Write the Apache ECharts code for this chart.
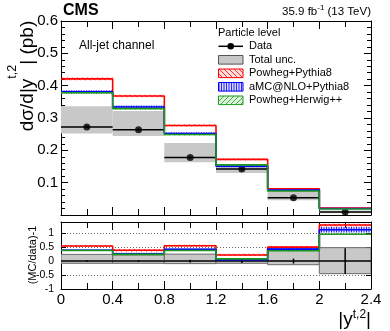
<!DOCTYPE html>
<html>
<head>
<meta charset="utf-8">
<script src="https://cdn.jsdelivr.net/npm/echarts@6/dist/echarts.min.js"></script>
<style>
  html, body { margin: 0; padding: 0; background: #fff; }
  #chart { width: 390px; height: 331px; }
</style>
</head>
<body>
<div id="chart"></div>
<script>
// bins in |y(t,2)|
var binEdges = [0, 0.4, 0.8, 1.2, 1.6, 2.0, 2.4];

// upper panel, dsigma/d|y| in pb
var dataXsec = [0.2725, 0.264, 0.178, 0.142, 0.0535, 0.0095];
var dataStat = [0.004, 0.004, 0.004, 0.004, 0.003, 0.002];
var totUncLo = [0.252, 0.244, 0.163, 0.130, 0.046, 0.0052];
var totUncHi = [0.336, 0.322, 0.223, 0.155, 0.074, 0.0141];
var powhegPythia = [0.421, 0.368, 0.277, 0.172, 0.081, 0.0218];
var amcPythia = [0.381, 0.334, 0.252, 0.151, 0.077, 0.0202];
var powhegHerwig = [0.378, 0.329, 0.249, 0.155, 0.074, 0.0187];
var powhegPythiaUnc = [0.004, 0.004, 0.003, 0.003, 0.002, 0.001];
var amcPythiaUnc = [0.005, 0.005, 0.004, 0.003, 0.002, 0.001];
var powhegHerwigUnc = [0.003, 0.003, 0.003, 0.002, 0.001, 0.001];

// lower panel, (MC/data)-1
var ratioStat = [0.03, 0.03, 0.05, 0.07, 0.09, 0.46];
var ratioUncLo = [-0.08, -0.08, -0.09, -0.08, -0.13, -0.45];
var ratioUncHi = [0.24, 0.22, 0.25, 0.09, 0.38, 0.48];
var ratioPowhegPythia = [0.54, 0.39, 0.55, 0.22, 0.50, 1.29];
var ratioAmcPythia = [0.39, 0.26, 0.42, 0.05, 0.43, 1.12];
var ratioPowhegHerwig = [0.38, 0.24, 0.38, 0.08, 0.37, 0.96];
var ratioPowhegPythiaUnc = [0.035, 0.045, 0.035, 0.04, 0.04, 0.05];
var ratioAmcPythiaUnc = [0.03, 0.04, 0.03, 0.04, 0.04, 0.10];
var ratioPowhegHerwigUnc = [0.02, 0.02, 0.02, 0.02, 0.02, 0.03];

// tick labels
var mainTickLabels = [0.1, 0.2, 0.3, 0.4, 0.5, 0.6];
var ratioTickLabels = [-1, -0.5, 0, 0.5, 1];

var FONT = '"Liberation Sans", Arial, Helvetica, sans-serif';
var RED = '#ff0000', BLUE = '#0000ff', GREEN = '#1c9a1c', GRAY = '#c8c8c8';
var MAIN = 0, RATIO = 2; // axis indices (bottom/left axes of each grid)

function hatch(color, bg, kind) {
  var c = document.createElement('canvas');
  c.width = 5; c.height = 5;
  var g = c.getContext('2d');
  g.fillStyle = bg;
  g.fillRect(0, 0, 5, 5);
  g.strokeStyle = color;
  g.lineWidth = 1;
  g.beginPath();
  if (kind === 'back') { g.moveTo(0, 0); g.lineTo(5, 5); }
  else if (kind === 'fwd') { g.moveTo(0, 5); g.lineTo(5, 0); }
  else { g.moveTo(1.5, 0); g.lineTo(1.5, 5); g.moveTo(4, 0); g.lineTo(4, 5); }
  g.stroke();
  return { image: c, repeat: 'repeat' };
}
var redHatch = hatch('rgba(255,0,0,0.8)', 'rgba(255,120,120,0.25)', 'back');
var blueHatch = hatch('rgba(0,0,255,0.8)', 'rgba(120,120,255,0.3)', 'vert');
var greenHatch = hatch('rgba(28,154,28,0.8)', 'rgba(120,200,120,0.25)', 'fwd');

function stepData(vals) {
  var d = [];
  for (var i = 0; i < vals.length; i++) d.push([binEdges[i], vals[i]]);
  d.push([binEdges[vals.length], vals[vals.length - 1]]);
  return d;
}
function boxRows(lo, hi) {
  return lo.map(function (v, i) { return [binEdges[i], binEdges[i + 1], v, hi[i]]; });
}
function bandRows(center, unc) {
  return center.map(function (v, i) { return [binEdges[i], binEdges[i + 1], v - unc[i], v + unc[i]]; });
}
function pointRows(vals, err) {
  return vals.map(function (v, i) { return [binEdges[i], binEdges[i + 1], v, err[i]]; });
}

function boxRenderer(fill, stroke) {
  return function (params, api) {
    var a = api.coord([api.value(0), api.value(3)]);
    var b = api.coord([api.value(1), api.value(2)]);
    return {
      type: 'rect',
      shape: { x: a[0], y: a[1], width: b[0] - a[0], height: b[1] - a[1] },
      style: { fill: fill, stroke: stroke || null, lineWidth: stroke ? 1 : 0 }
    };
  };
}
function pointRenderer(params, api) {
  var x0 = api.value(0), x1 = api.value(1), y = api.value(2), e = api.value(3);
  var xm = (x0 + x1) / 2;
  var l = api.coord([x0, y]), r = api.coord([x1, y]);
  var t = api.coord([xm, y + e]), b = api.coord([xm, y - e]);
  return {
    type: 'group',
    children: [
      { type: 'line', shape: { x1: l[0], y1: l[1], x2: r[0], y2: r[1] }, style: { stroke: '#000', lineWidth: 1.5 } },
      { type: 'line', shape: { x1: t[0], y1: t[1], x2: b[0], y2: b[1] }, style: { stroke: '#000', lineWidth: 1.5 } }
    ]
  };
}

function custom(ax, rows, renderer) {
  return {
    type: 'custom', xAxisIndex: ax, yAxisIndex: ax, data: rows, renderItem: renderer,
    encode: { x: [0, 1], y: [2, 3] }, clip: true, silent: true
  };
}
function step(ax, vals, color) {
  return {
    type: 'line', xAxisIndex: ax, yAxisIndex: ax, data: stepData(vals), step: 'end',
    symbol: 'none', lineStyle: { color: color, width: 1.6 }, silent: true
  };
}

function xAx(grid, pos, labels) {
  return {
    type: 'value', gridIndex: grid, position: pos, min: 0, max: 2.4, interval: 0.4,
    axisLine: { show: true, onZero: false, lineStyle: { color: '#000', width: 1 } },
    axisTick: { show: true, inside: true, length: 8, lineStyle: { color: '#000' } },
    minorTick: { show: true, splitNumber: 2, length: 6, lineStyle: { color: '#000' } },
    splitLine: { show: false },
    axisLabel: labels ? { show: true, color: '#000', fontSize: 15, fontFamily: FONT, margin: 3 } : { show: false }
  };
}

var chart = echarts.init(document.getElementById('chart'));

var option = {
  animation: false,
  backgroundColor: '#fff',
  grid: [
    { left: 61, top: 21, width: 310, height: 194, outerBoundsMode: 'none' },
    { left: 61, top: 222, width: 310, height: 67, outerBoundsMode: 'none' }
  ],
  xAxis: [xAx(0, 'bottom', false), xAx(0, 'top', false), xAx(1, 'bottom', true), xAx(1, 'top', false)],
  yAxis: [
    {
      type: 'value', gridIndex: 0, position: 'left', min: 0, max: 0.6, interval: 0.1,
      axisLine: { show: true, onZero: false, lineStyle: { color: '#000' } },
      axisTick: { show: true, inside: true, length: 7, lineStyle: { color: '#000' } },
      minorTick: { show: true, splitNumber: 5, length: 4, lineStyle: { color: '#000' } },
      splitLine: { show: false },
      axisLabel: {
        color: '#000', fontSize: 15, fontFamily: FONT, margin: 3,
        formatter: function (v) {
          return mainTickLabels.some(function (t) { return Math.abs(t - v) < 1e-6; }) ? v.toFixed(1) : '';
        }
      }
    },
    {
      type: 'value', gridIndex: 0, position: 'right', min: 0, max: 0.6, interval: 0.1,
      axisLine: { show: true, onZero: false, lineStyle: { color: '#000' } },
      axisTick: { show: true, inside: true, length: 7, lineStyle: { color: '#000' } },
      minorTick: { show: true, splitNumber: 5, length: 4, lineStyle: { color: '#000' } },
      splitLine: { show: false }, axisLabel: { show: false }
    },
    {
      type: 'value', gridIndex: 1, position: 'left', min: -1, max: 1.4, interval: 0.5,
      axisLine: { show: true, onZero: false, lineStyle: { color: '#000' } },
      axisTick: { show: true, inside: true, length: 5, lineStyle: { color: '#000' } },
      splitLine: { show: true, lineStyle: { color: '#666', type: [1, 2], width: 1 } },
      axisLabel: {
        color: '#000', fontSize: 10.5, fontFamily: FONT, margin: 7,
        formatter: function (v) {
          return ratioTickLabels.some(function (t) { return Math.abs(t - v) < 1e-6; }) ? String(v) : '';
        }
      }
    },
    {
      type: 'value', gridIndex: 1, position: 'right', min: -1, max: 1.4, interval: 0.5,
      axisLine: { show: true, onZero: false, lineStyle: { color: '#000' } },
      axisTick: { show: true, inside: true, length: 5, lineStyle: { color: '#000' } },
      splitLine: { show: false }, axisLabel: { show: false }
    }
  ],
  series: [
    // upper panel
    custom(MAIN, boxRows(totUncLo, totUncHi), boxRenderer(GRAY)),
    custom(MAIN, bandRows(powhegPythia, powhegPythiaUnc), boxRenderer(redHatch)),
    custom(MAIN, bandRows(amcPythia, amcPythiaUnc), boxRenderer(blueHatch)),
    custom(MAIN, bandRows(powhegHerwig, powhegHerwigUnc), boxRenderer(greenHatch)),
    step(MAIN, powhegPythia, RED),
    step(MAIN, amcPythia, BLUE),
    step(MAIN, powhegHerwig, GREEN),
    custom(MAIN, pointRows(dataXsec, dataStat), pointRenderer),
    {
      type: 'scatter', xAxisIndex: MAIN, yAxisIndex: MAIN, symbol: 'circle', symbolSize: 7,
      itemStyle: { color: '#000' }, silent: true,
      data: dataXsec.map(function (v, i) { return [(binEdges[i] + binEdges[i + 1]) / 2, v]; })
    },
    // lower panel
    custom(RATIO, boxRows(ratioUncLo, ratioUncHi), boxRenderer(GRAY, '#6a6a6a')),
    custom(RATIO, bandRows(ratioPowhegPythia, ratioPowhegPythiaUnc), boxRenderer(redHatch)),
    custom(RATIO, bandRows(ratioAmcPythia, ratioAmcPythiaUnc), boxRenderer(blueHatch)),
    custom(RATIO, bandRows(ratioPowhegHerwig, ratioPowhegHerwigUnc), boxRenderer(greenHatch)),
    step(RATIO, ratioPowhegPythia, RED),
    step(RATIO, ratioAmcPythia, BLUE),
    step(RATIO, ratioPowhegHerwig, GREEN),
    custom(RATIO, pointRows(dataXsec.map(function () { return 0; }), ratioStat), pointRenderer)
  ],
  graphic: [
    { type: 'text', x: 63, y: 11, style: { text: 'CMS', font: 'bold 16px ' + FONT, fill: '#000', verticalAlign: 'middle' } },
    {
      type: 'text', x: 371, y: 12,
      style: {
        text: '{a|35.9 fb}{s|-1}{a| (13 TeV)}', fill: '#000', align: 'right', verticalAlign: 'middle',
        rich: {
          a: { fontSize: 11.5, fontFamily: FONT, lineHeight: 16 },
          s: { fontSize: 8, fontFamily: FONT, height: 8, lineHeight: 8, verticalAlign: 'top' }
        }
      }
    },
    { type: 'text', x: 79, y: 46, style: { text: 'All-jet channel', fontSize: 12, fontFamily: FONT, fill: '#000', verticalAlign: 'middle' } },
    {
      type: 'text', x: 28, y: 76, rotation: Math.PI / 2,
      style: {
        text: '{a|dσ/d|y}{s|t,2}{a|| (pb)}', fill: '#000', align: 'center', verticalAlign: 'middle',
        rich: {
          a: { fontSize: 19, fontFamily: FONT, lineHeight: 44 },
          s: { fontSize: 12.5, fontFamily: FONT, height: 13, lineHeight: 13, verticalAlign: 'top' }
        }
      }
    },
    {
      type: 'text', x: 33, y: 255, rotation: Math.PI / 2,
      style: { text: '(MC/data)-1', fontSize: 11, fontFamily: FONT, fill: '#000', align: 'center', verticalAlign: 'middle' }
    },
    {
      type: 'text', x: 371, y: 320,
      style: {
        text: '{a||y}{s|t,2}{a||}', fill: '#000', align: 'right', verticalAlign: 'middle',
        rich: {
          a: { fontSize: 19, fontFamily: FONT, lineHeight: 22 },
          s: { fontSize: 12, fontFamily: FONT, height: 12, lineHeight: 12, verticalAlign: 'top' }
        }
      }
    },
    // legend
    { type: 'text', x: 218, y: 32.8, style: { text: 'Particle level', fontSize: 11, fontFamily: FONT, fill: '#000', verticalAlign: 'middle' } },
    { type: 'line', shape: { x1: 218.5, y1: 46.3, x2: 243, y2: 46.3 }, style: { stroke: '#000', lineWidth: 1.5 } },
    { type: 'circle', shape: { cx: 230.7, cy: 46.3, r: 3.3 }, style: { fill: '#000' } },
    { type: 'text', x: 249, y: 46.3, style: { text: 'Data', fontSize: 11, fontFamily: FONT, fill: '#000', verticalAlign: 'middle' } },
    { type: 'rect', shape: { x: 218.5, y: 55.5, width: 24.5, height: 8.6 }, style: { fill: GRAY, stroke: '#555', lineWidth: 1 } },
    { type: 'text', x: 249, y: 59.8, style: { text: 'Total unc.', fontSize: 11, fontFamily: FONT, fill: '#000', verticalAlign: 'middle' } },
    { type: 'rect', shape: { x: 218.5, y: 69, width: 24.5, height: 8.6 }, style: { fill: redHatch, stroke: RED, lineWidth: 1 } },
    { type: 'text', x: 249, y: 73.3, style: { text: 'Powheg+Pythia8', fontSize: 11, fontFamily: FONT, fill: '#000', verticalAlign: 'middle' } },
    { type: 'rect', shape: { x: 218.5, y: 82.5, width: 24.5, height: 8.6 }, style: { fill: blueHatch, stroke: BLUE, lineWidth: 1 } },
    { type: 'text', x: 249, y: 86.8, style: { text: 'aMC@NLO+Pythia8', fontSize: 11, fontFamily: FONT, fill: '#000', verticalAlign: 'middle' } },
    { type: 'rect', shape: { x: 218.5, y: 96, width: 24.5, height: 8.6 }, style: { fill: greenHatch, stroke: GREEN, lineWidth: 1 } },
    { type: 'text', x: 249, y: 100.3, style: { text: 'Powheg+Herwig++', fontSize: 11, fontFamily: FONT, fill: '#000', verticalAlign: 'middle' } }
  ]
};

chart.setOption(option);
</script>
</body>
</html>
